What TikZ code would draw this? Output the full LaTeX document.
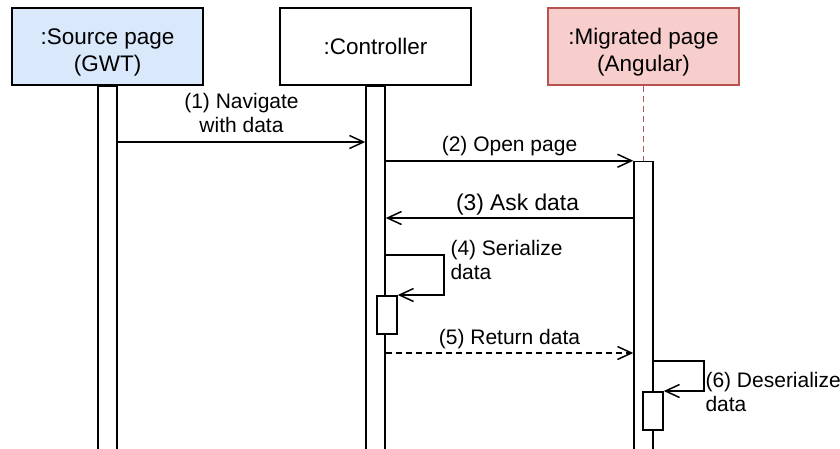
\documentclass[tikz,border=0pt]{standalone}
\usepackage{fontspec}
\setmainfont{Liberation Sans}
\usepackage{tikz}
\usetikzlibrary{arrows.meta,positioning}
\definecolor{sdblue}{RGB}{218,232,252}
\definecolor{sdred}{RGB}{248,206,204}
\definecolor{sdredline}{RGB}{184,84,80}
\tikzstyle{actor} = [rectangle, minimum width=191pt, minimum height=77pt, text centered, align=center, draw=black, line width=1.5pt, font=\fontsize{22.5}{27}\selectfont]
\tikzstyle{bar} = [rectangle, draw=black, fill=white, line width=1.5pt, minimum width=19pt, inner sep=0pt, anchor=north]
\tikzstyle{msg} = [line width=1.5pt, -{Straight Barb[length=14pt,width=13pt]}]
\tikzstyle{msglabel} = [font=\fontsize{21}{24}\selectfont, align=center, inner sep=0pt]

\begin{document}
\begin{tikzpicture}[x=1pt, y=-1pt]
\useasboundingbox (0,0) rectangle (840,448);
% Lifelines
\node (src) [actor, fill=sdblue] at (107.5,46.5) {\rule{0pt}{28pt}:Source page\\(GWT)};
\node (ctl) [actor, right=75.5pt of src] {:Controller};
\node (mig) [actor, right=75.5pt of ctl, fill=sdred, draw=sdredline] {\rule{0pt}{28pt}:Migrated page\\(Angular)};
\node (srcbar) [bar, minimum height=370pt] at (src.south) {};
\node (ctlbar) [bar, minimum height=370pt] at (ctl.south) {};
\node (migbar) [bar, minimum height=295pt, below=75pt of mig] {};
\draw[sdredline, line width=1.3pt, dash pattern=on 6pt off 4pt] (mig) -- (migbar);

% Messages
\draw[msg] (srcbar.east |- 0,142) -- node[msglabel, above=9pt] {(1) Navigate\\with data} (ctlbar.west |- 0,142);
\draw[msg] (ctlbar.east |- migbar.north) -- node[msglabel, above=4pt] {(2) Open page} (migbar.north west);
\draw[msg] (migbar.west |- 0,218) -- node[msglabel, above=2pt, xshift=8pt, font=\fontsize{22.8}{26}\selectfont] {(3) Ask data} (ctlbar.east |- 0,218);

\node (serbar) [bar, minimum width=20pt, minimum height=38pt] at (387,295) {};
\draw[msg] (ctlbar.east |- 0,255) -- ++(58,0) |- node[msglabel, right=6pt, align=left, pos=0.25, yshift=15pt] {(4) Serialize\\data} (serbar.north east);

\draw[msg, dash pattern=on 6pt off 4pt] (ctlbar.east |- 0,353) -- node[msglabel, above=3pt] {(5) Return data} (migbar.west |- 0,353);

\node (desbar) [bar, minimum width=20pt, minimum height=38pt] at (653,391) {};
\draw[msg] (migbar.east |- 0,361) -- ++(50,0) |- node[msglabel, right=1pt, align=left, pos=0.25, yshift=-16pt] {(6) Deserialize\\data} (desbar.north east);
\end{tikzpicture}
\end{document}
